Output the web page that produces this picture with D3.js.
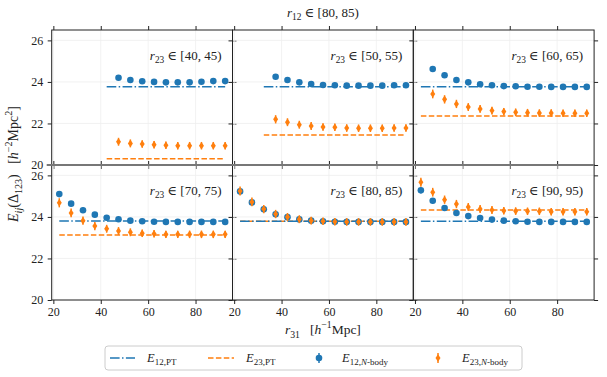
<!DOCTYPE html>
<html><head><meta charset="utf-8">
<script src="https://cdn.jsdelivr.net/npm/d3@7/dist/d3.min.js"></script>
<style>body{margin:0;background:#fff} svg{display:block}</style>
</head><body><svg id="c" width="607" height="377"></svg>
<script>
// ---------- data ----------
const r31Bins = [22.5,27.5,32.5,37.5,42.5,47.5,52.5,57.5,62.5,67.5,72.5,77.5,82.5,87.5,92.5];
const xTicks = [20,40,60,80];
const yTicks = [20,22,24,26];
const r23Labels = ["[40, 45)","[50, 55)","[60, 65)","[70, 75)","[80, 85)","[90, 95)"];
const ptStart = [42.5,32.5,22.5,22.5,22.5,22.5];
const ptEnd = 92.5;
const e12PT = [23.77,23.77,23.77,23.80,23.79,23.79];
const e23PT = [20.30,21.44,22.36,23.13,23.79,24.33];
const N = null;
const e12_40 = [N,N,N,N,N,24.20,24.09,24.03,24.00,23.98,23.98,23.98,24.01,24.04,24.04];
const e23_40 = [N,N,N,N,N,21.12,21.04,21.01,20.98,20.95,20.93,20.93,20.93,20.93,20.93];
const e12_50 = [N,N,N,24.25,24.09,23.98,23.90,23.85,23.84,23.82,23.82,23.82,23.82,23.84,23.84];
const e23_50 = [N,N,N,22.20,22.06,21.94,21.88,21.83,21.82,21.78,21.77,21.77,21.77,21.78,21.78];
const e12_60 = [N,24.62,24.32,24.09,23.98,23.89,23.84,23.80,23.79,23.77,23.77,23.76,23.76,23.76,23.76];
const e23_60 = [N,23.42,23.16,22.94,22.79,22.70,22.62,22.57,22.54,22.52,22.50,22.50,22.49,22.49,22.49];
const e12_70 = [25.10,24.64,24.32,24.11,23.96,23.89,23.82,23.79,23.77,23.76,23.76,23.76,23.76,23.76,23.76];
const e23_70 = [24.68,24.19,23.82,23.56,23.43,23.32,23.26,23.21,23.19,23.16,23.16,23.16,23.16,23.16,23.16];
const e12_80 = [25.23,24.70,24.37,24.13,23.99,23.88,23.82,23.79,23.77,23.76,23.76,23.76,23.76,23.76,23.76];
const e23_80 = [25.25,24.72,24.38,24.14,24.00,23.89,23.82,23.79,23.77,23.76,23.76,23.76,23.76,23.76,23.76];
const e12_90 = [25.28,24.78,24.43,24.19,24.04,23.95,23.87,23.82,23.79,23.77,23.76,23.76,23.76,23.76,23.76];
const e23_90 = [25.67,25.19,24.83,24.62,24.48,24.38,24.33,24.30,24.28,24.27,24.27,24.25,24.25,24.25,24.25];
const e12Err = [0.14,0.13,0.13,0.12,0.12,0.12,0.11,0.11,0.11,0.11,0.11,0.11,0.11,0.11,0.11];
const e23Err = [0.22,0.21,0.20,0.20,0.19,0.19,0.19,0.18,0.18,0.18,0.18,0.18,0.18,0.18,0.18];
const e12Nbody = [e12_40,e12_50,e12_60,e12_70,e12_80,e12_90];
const e23Nbody = [e23_40,e23_50,e23_60,e23_70,e23_80,e23_90];

// ---------- styling ----------
const BLUE = "#1f77b4", ORANGE = "#ff7f0e";
const SERIF = "'Liberation Serif','DejaVu Serif',serif";
const svg = d3.select("#c").style("font-family", SERIF);

const px0 = 51.7, py0 = 30, pw = 180.8, ph = 135;

function tex(sel, segs, base) {
  let cur = 0;
  sel.style("white-space", "pre");
  segs.forEach(s => {
    const tgt = s.s === "sub" ? 0.28*base : s.s === "sup" ? -0.42*base : 0;
    const ts = sel.append("tspan").text(s.t)
      .attr("font-size", s.s ? base*0.72 : base)
      .attr("font-style", s.i ? "italic" : "normal");
    if (tgt !== cur) ts.attr("dy", tgt - cur);
    cur = tgt;
  });
  return sel;
}

const diamond = (h, w) => `M0,${-h}L${w},0L0,${h}L${-w},0Z`;

for (let p = 0; p < 6; p++) {
  const row = Math.floor(p/3), col = p % 3;
  const x0 = px0 + col*pw, y0 = py0 + row*ph;
  const x = d3.scaleLinear().domain([19.3, 95.6]).range([x0, x0+pw]);
  const y = d3.scaleLinear().domain([20, 26.5]).range([y0+ph, y0]);
  const g = svg.append("g");

  // grid
  g.selectAll(".gx").data(xTicks).join("line")
    .attr("x1", d=>x(d)).attr("x2", d=>x(d)).attr("y1", y0).attr("y2", y0+ph)
    .attr("stroke", "#efefef").attr("stroke-width", 0.8);
  g.selectAll(".gy").data(yTicks).join("line")
    .attr("y1", d=>y(d)).attr("y2", d=>y(d)).attr("x1", x0).attr("x2", x0+pw)
    .attr("stroke", "#efefef").attr("stroke-width", 0.8);

  // axes (outward ticks on all sides)
  const fmt = d3.format("d");
  const mk = (axis, tr, labels) => {
    const a = g.append("g").attr("transform", tr)
      .call(axis.tickFormat(fmt).tickSize(4).tickSizeOuter(0));
    a.select(".domain").remove();
    a.selectAll(".tick line").attr("stroke", "#222");
    a.selectAll("text").attr("font-family", SERIF).attr("font-size", 12).attr("fill", "#222");
    if (!labels) a.selectAll("text").remove();
    return a;
  };
  mk(d3.axisLeft(y).tickValues(yTicks).tickPadding(4.5), `translate(${x0},0)`, col === 0);
  mk(d3.axisRight(y).tickValues(yTicks), `translate(${x0+pw},0)`, false);
  mk(d3.axisTop(x).tickValues(xTicks), `translate(0,${y0})`, false);
  mk(d3.axisBottom(x).tickValues(xTicks).tickPadding(3.5), `translate(0,${y0+ph})`, row === 1);

  // PT lines
  const lineY = v => d3.line().x(d=>x(d)).y(()=>y(v))([ptStart[p], ptEnd]);
  g.append("path").attr("d", lineY(e23PT[p])).attr("fill","none")
    .attr("stroke", ORANGE).attr("stroke-width", 1.5).attr("stroke-dasharray", "5.5,2.4");
  g.append("path").attr("d", lineY(e12PT[p])).attr("fill","none")
    .attr("stroke", BLUE).attr("stroke-width", 1.5).attr("stroke-dasharray", "9.6,2.4,1.5,2.4");

  // N-body points
  const pts12 = r31Bins.map((r,i)=>({r, v:e12Nbody[p][i], e:e12Err[i]})).filter(d=>d.v!==null);
  const pts23 = r31Bins.map((r,i)=>({r, v:e23Nbody[p][i], e:e23Err[i]})).filter(d=>d.v!==null);
  g.selectAll(".eb12").data(pts12).join("line")
    .attr("x1", d=>x(d.r)).attr("x2", d=>x(d.r)).attr("y1", d=>y(d.v-d.e)).attr("y2", d=>y(d.v+d.e))
    .attr("stroke", BLUE).attr("stroke-width", 1.5);
  g.selectAll(".m12").data(pts12).join("circle")
    .attr("cx", d=>x(d.r)).attr("cy", d=>y(d.v)).attr("r", 3.3).attr("fill", BLUE);
  g.selectAll(".eb23").data(pts23).join("line")
    .attr("x1", d=>x(d.r)).attr("x2", d=>x(d.r)).attr("y1", d=>y(d.v-d.e)).attr("y2", d=>y(d.v+d.e))
    .attr("stroke", ORANGE).attr("stroke-width", 1.5);
  g.selectAll(".m23").data(pts23).join("path")
    .attr("transform", d=>`translate(${x(d.r)},${y(d.v)})`).attr("d", diamond(3.8, 2.5)).attr("fill", ORANGE);

  // frame
  g.append("rect").attr("x", x0).attr("y", y0).attr("width", pw).attr("height", ph)
    .attr("fill", "none").attr("stroke", "#222").attr("stroke-width", 1);

  // annotation
  tex(g.append("text").attr("x", x0+pw-11).attr("y", y0+29.5).attr("text-anchor","end").attr("fill","#222"),
      [{t:"r",i:true},{t:"23",s:"sub"},{t:" ∈ "+r23Labels[p]}], 13);
}
// shared row boundary
svg.append("line").attr("x1", px0-5).attr("x2", px0+3*pw).attr("y1", py0+ph).attr("y2", py0+ph)
  .attr("stroke", "#777").attr("stroke-width", 2);

// title
tex(svg.append("text").attr("x", px0+1.5*pw).attr("y", 16.5).attr("text-anchor","middle").attr("fill","#222"),
    [{t:"r",i:true},{t:"12",s:"sub"},{t:" ∈ [80, 85)"}], 13);
// x label
tex(svg.append("text").attr("x", px0+1.5*pw).attr("y", 334).attr("text-anchor","middle").attr("fill","#222"),
    [{t:"r",i:true},{t:"31",s:"sub"},{t:"\u00a0\u00a0\u00a0[",},{t:"h",i:true},{t:"−1",s:"sup"},{t:"Mpc]"}], 13.5);
// y label
tex(svg.append("text").attr("transform","translate(18,164) rotate(-90)").attr("text-anchor","middle").attr("fill","#222"),
    [{t:"E",i:true},{t:"ij",s:"sub",i:true},{t:"(Δ"},{t:"123",s:"sub"},{t:")\u00a0\u00a0\u00a0["},{t:"h",i:true},{t:"−2",s:"sup"},{t:"Mpc"},{t:"2",s:"sup"},{t:"]"}], 14);

// legend
const lg = svg.append("g");
lg.append("rect").attr("x",105).attr("y",346).attr("width",417).attr("height",24).attr("rx",3)
  .attr("fill","#fff").attr("stroke","#ccc").attr("stroke-width",1);
const ly = 358;
lg.append("line").attr("x1",110).attr("x2",135).attr("y1",ly).attr("y2",ly)
  .attr("stroke",BLUE).attr("stroke-width",1.5).attr("stroke-dasharray","9.6,2.4,1.5,2.4");
lg.append("line").attr("x1",208).attr("x2",234).attr("y1",ly).attr("y2",ly)
  .attr("stroke",ORANGE).attr("stroke-width",1.5).attr("stroke-dasharray","5.5,2.4");
lg.append("line").attr("x1",319).attr("x2",319).attr("y1",ly-5).attr("y2",ly+5).attr("stroke",BLUE).attr("stroke-width",1.5);
lg.append("circle").attr("cx",319).attr("cy",ly).attr("r",3.3).attr("fill",BLUE);
lg.append("line").attr("x1",438).attr("x2",438).attr("y1",ly-5).attr("y2",ly+5).attr("stroke",ORANGE).attr("stroke-width",1.5);
lg.append("path").attr("transform",`translate(438,${ly})`).attr("d",diamond(3.8,2.5)).attr("fill",ORANGE);
const legTxt = [
  [147, [{t:"E",i:true},{t:"12,PT",s:"sub"}]],
  [246, [{t:"E",i:true},{t:"23,PT",s:"sub"}]],
  [342, [{t:"E",i:true},{t:"12,",s:"sub"},{t:"N",s:"sub",i:true},{t:"-body",s:"sub"}]],
  [462, [{t:"E",i:true},{t:"23,",s:"sub"},{t:"N",s:"sub",i:true},{t:"-body",s:"sub"}]]
];
legTxt.forEach(([lx, segs]) => tex(lg.append("text").attr("x",lx).attr("y",ly+3.5).attr("fill","#222"), segs, 12.5));
</script></body></html>
